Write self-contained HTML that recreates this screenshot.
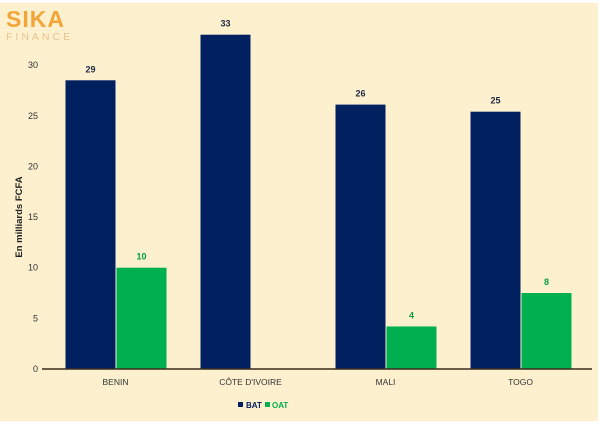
<!DOCTYPE html>
<html><head><meta charset="utf-8"><style>
html,body{margin:0;padding:0;width:600px;height:425px;overflow:hidden;background:#fff}
svg{display:block;font-family:"Liberation Sans",sans-serif}
</style></head><body>
<svg width="600" height="425">
<rect x="0" y="3" width="598" height="418" fill="#fdf0cf"/>
<g>
<text x="6" y="27" font-size="23" fill="#f2a638" font-weight="bold" letter-spacing="1">SIKA</text>
<text x="6" y="40" font-size="10.5" fill="#e9c48e" letter-spacing="3">FINANCE</text>
</g>
<text transform="translate(22,217) rotate(-90)" text-anchor="middle" font-size="9.5" font-weight="bold" fill="#222">En milliards FCFA</text>
<g id="plot"></g>
<g>
<rect x="238" y="402" width="5" height="5" fill="#002060"/>
<text x="246" y="408" font-size="8" font-weight="bold" fill="#002060">BAT</text>
<rect x="265" y="402" width="5" height="5" fill="#00b050"/>
<text x="272" y="408" font-size="8" font-weight="bold" fill="#00b050">OAT</text>
</g>
</svg>
<script>
const categories=["BENIN","CÔTE D'IVOIRE","MALI","TOGO"];
const batValues=[28.5,33.0,26.1,25.4];
const oatValues=[10.0,null,4.2,7.5];
const batLabels=["29","33","26","25"];
const oatLabels=["10","","4","8"];
const yTicks=[0,5,10,15,20,25,30];
const NS="http://www.w3.org/2000/svg";
const g=document.getElementById('plot');
const x0=48,catW=135,y0=369,pxPerUnit=10.13,barW=50;
const y=v=>y0-v*pxPerUnit;
function mk(t,a){const e=document.createElementNS(NS,t);for(const k in a)e.setAttribute(k,a[k]);g.appendChild(e);return e;}
yTicks.forEach(t=>{const e=mk('text',{x:38,y:y(t)+3,'text-anchor':'end','font-size':9,fill:'#333'});e.textContent=t;

});
categories.forEach((c,i)=>{
const cx=x0+catW*i+catW/2;
const b=mk('rect',{x:cx-barW,y:y(batValues[i]),width:barW,height:batValues[i]*pxPerUnit,fill:'#002060'});


const bl=mk('text',{x:cx-barW/2,y:y(batValues[i])-8,'text-anchor':'middle','font-size':9,'font-weight':'bold',fill:'#1f2a44'});bl.textContent=batLabels[i];


if(oatValues[i]!=null){
const o=mk('rect',{x:cx+1,y:y(oatValues[i]),width:barW,height:oatValues[i]*pxPerUnit,fill:'#00b050'});


const ol=mk('text',{x:cx+1+barW/2,y:y(oatValues[i])-8,'text-anchor':'middle','font-size':9,'font-weight':'bold',fill:'#00a040'});ol.textContent=oatLabels[i];

}
const cl=mk('text',{x:cx,y:385,'text-anchor':'middle','font-size':8.5,fill:'#333'});cl.textContent=c;


});
const ax=mk('line',{x1:42,x2:592,y1:y0,y2:y0,stroke:'#3a2a1a','stroke-width':1.5});


</script>
</body></html>
